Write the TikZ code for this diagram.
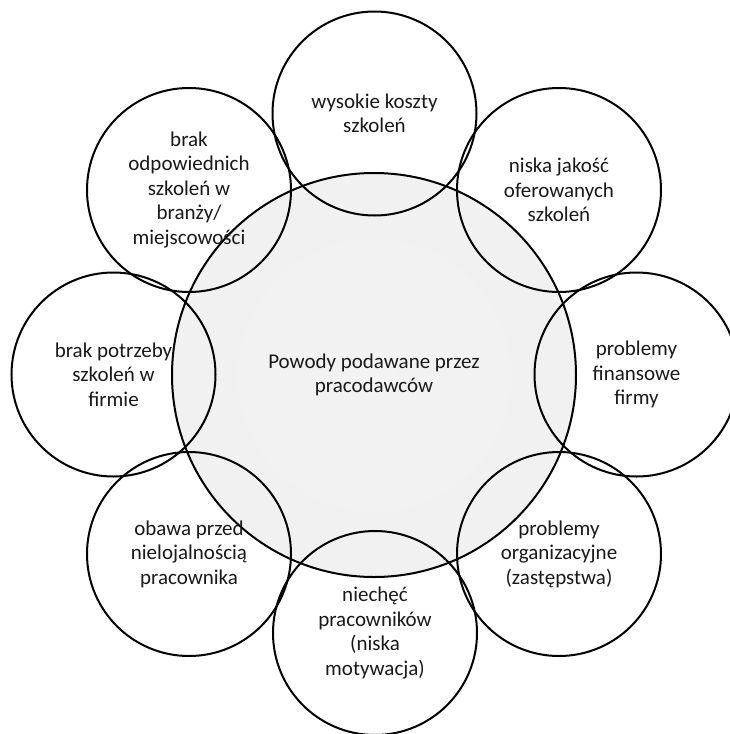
\documentclass[tikz,border=0pt]{standalone}
\usepackage{fontspec}
\setmainfont{Carlito}
\pgfdeclarelayer{bg}
\pgfsetlayers{bg,main}
\pgfdeclareradialshading{rimshade}{\pgfpoint{0bp}{0bp}}{color(0bp)=(white); color(42bp)=(white); color(47bp)=(black!8); color(49.3bp)=(black!25); color(50bp)=(black!45)}
\pgfdeclareradialshading{coreshade}{\pgfpoint{0bp}{0bp}}{color(0bp)=(black!6); color(36bp)=(black!7); color(43bp)=(black!14); color(47bp)=(black!28); color(49.3bp)=(black!45); color(50bp)=(black!60)}
\begin{document}
\begin{tikzpicture}[x=1pt,y=-1pt,
  bubble/.style={circle, draw=black, line width=2pt, minimum size=204pt, inner sep=0pt, align=center,
    font=\fontsize{21}{24.5}\selectfont, text=black!90},
  hub/.style={bubble, minimum size=404pt}]
\useasboundingbox (0,0) rectangle (729,734);
\node[hub] (c) at (374,375) {Powody podawane przez\\pracodawców};
\node[bubble] (n1) at (374.5,113.5) {wysokie koszty\\szkoleń};
\node[bubble] (n2) at (559,190) {niska jakość\\oferowanych\\szkoleń};
\node[bubble] (n3) at (636.5,374.5) {problemy\\finansowe\\firmy};
\node[bubble] (n4) at (559,554) {problemy\\organizacyjne\\(zastępstwa)};
\node[bubble] (n5) at (375,633) {niechęć\\pracowników\\(niska\\motywacja)};
\node[bubble] (n6) at (189,554) {obawa przed\\nielojalnością\\pracownika};
\node[bubble] (n7) at (113.5,374.5) {brak potrzeby\\szkoleń w\\firmie};
\node[bubble] (n8) at (189,190) {brak\\odpowiednich\\szkoleń w\\branży/\\miejscowości};
\begin{pgfonlayer}{bg}
  \foreach \n in {n1,n2,n3,n4,n5,n6,n7,n8}
    \shade[shading=rimshade] (\n.center) circle (102pt);
  \shade[shading=coreshade, fill opacity=0.82] (c.center) circle (202pt);
\end{pgfonlayer}
\end{tikzpicture}
\end{document}
